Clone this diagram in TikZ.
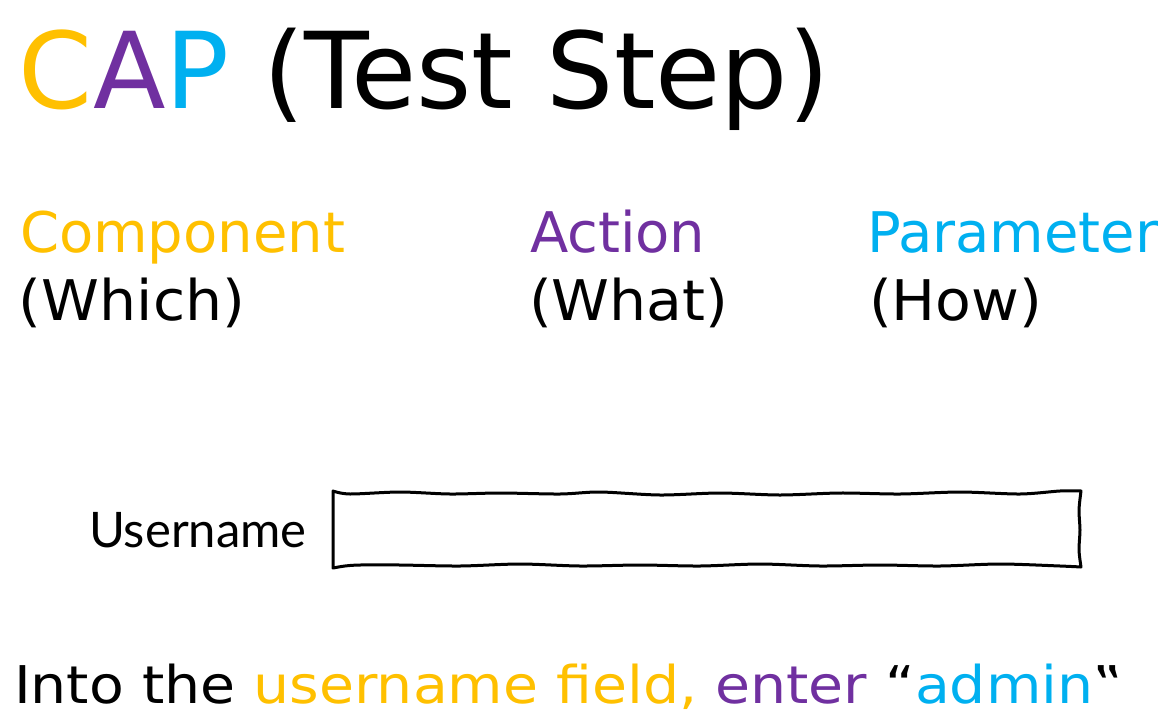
\documentclass[tikz,border=0pt]{standalone}
\usepackage{fontspec}
\setmainfont{DejaVu Sans}
\newfontfamily\latofont{Lato}
\newfontfamily\wideA[FakeStretch=1.045]{DejaVu Sans}
\newfontfamily\wideB[FakeStretch=1.095]{DejaVu Sans}
\definecolor{capY}{HTML}{FFC000}
\definecolor{capP}{HTML}{7030A0}
\definecolor{capB}{HTML}{00B0F0}
\tikzset{
  txt/.style={inner sep=0pt, outer sep=0pt, anchor=base west},
  big/.style={txt, font=\fontsize{106}{112}\selectfont},
  mid/.style={txt, font=\fontsize{56}{62}\selectfont},
  sub/.style={txt, font=\wideA\fontsize{56}{62}\selectfont},
  lbl/.style={txt, font=\latofont\fontsize{49}{54}\selectfont},
  sketch/.style={line width=3pt, line join=round, black}
}
\begin{document}
\begin{tikzpicture}[x=1pt,y=-1pt]
\useasboundingbox (0,0) rectangle (1173,726);
\node[big] (title) at (19,108) {\textcolor{capY}{C}\textcolor{capP}{A}\textcolor{capB}{P} (Test Step)};
\node[mid, text=capY] (comp) at (20,252) {Component};
\node[mid, text=capP] (act) at (530,252) {Action};
\node[mid, text=capB] (par) at (867,252) {Parameter};
\node[sub] (which) at (19,320) {(Which)};
\node[sub] (what) at (529,320) {(What)};
\node[sub] (how) at (869,320) {(How)};
\node[lbl] (user) at (89,547) {Username};
\draw[sketch] plot[smooth] coordinates {(333,491) (350,494) (400,492) (450,494) (500,493) (560,494) (600,492) (660,495) (720,493) (780,495) (840,493) (900,494) (960,492) (1020,494) (1060,491) (1081,491)}
  -- plot[smooth] coordinates {(1081,491) (1079,510) (1080,530) (1079,550) (1081,567)}
  -- plot[smooth] coordinates {(1081,567) (1060,566) (1000,564) (940,566) (880,565) (820,566) (760,564) (700,566) (640,565) (580,566) (520,564) (460,566) (400,565) (360,565) (345,566) (333,568)}
  -- cycle;
\node[txt, font=\wideB\fontsize{52}{58}\selectfont] (sent) at (14,703) {Into the \textcolor{capY}{username field,} \textcolor{capP}{enter} “\textcolor{capB}{admin}‟};
\end{tikzpicture}
\end{document}
